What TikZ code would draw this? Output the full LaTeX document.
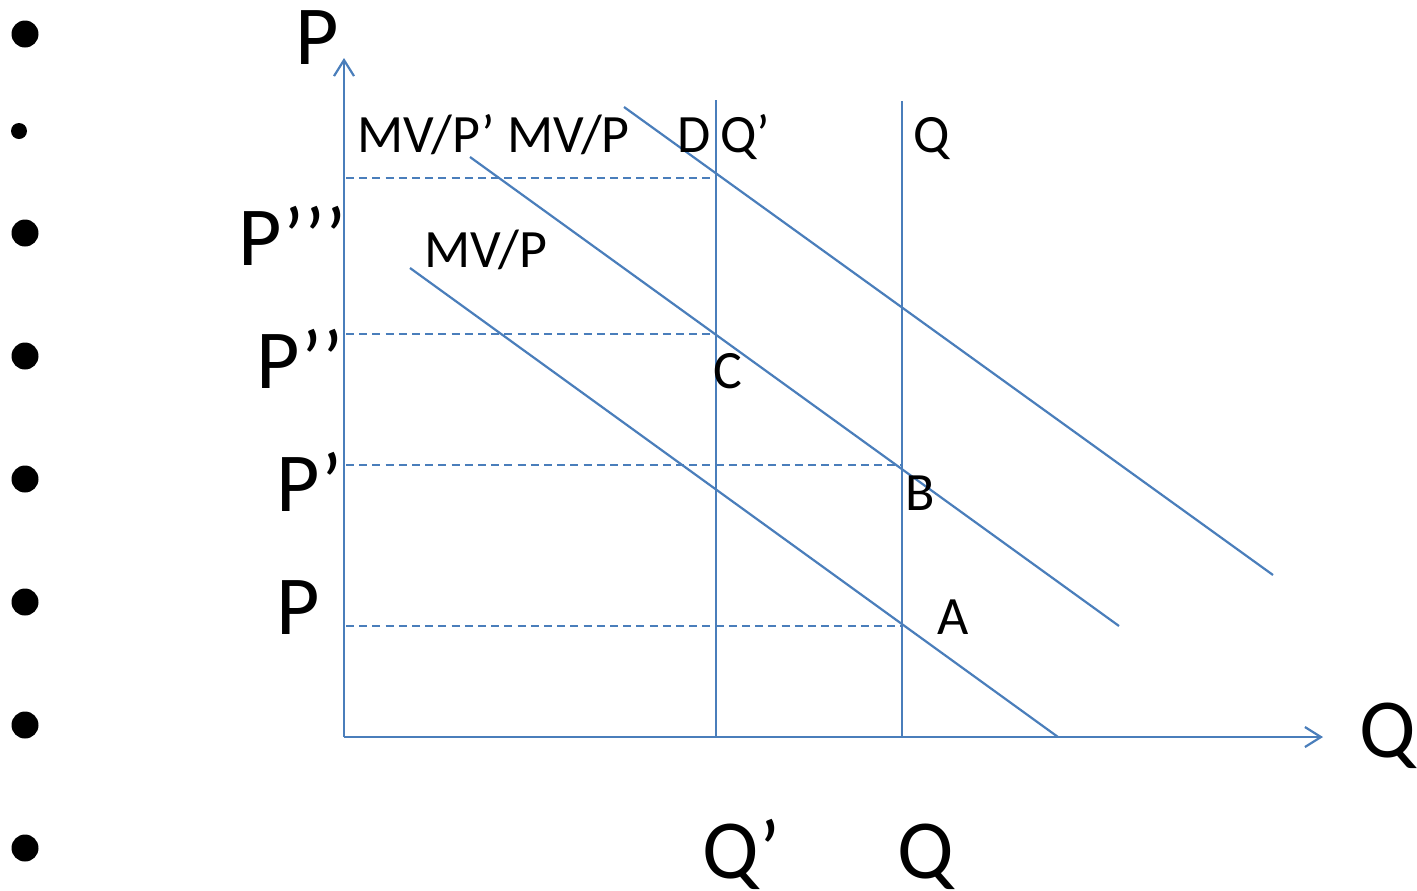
\documentclass[tikz,border=0pt]{standalone}
\usepackage{fontspec}
\setmainfont{Carlito}
\usetikzlibrary{arrows.meta}
\definecolor{ax}{HTML}{4A7EBB}
\tikzset{
  curve/.style={draw=ax, line width=1.1pt},
  axisline/.style={draw=ax, line width=1.2pt, -{Straight Barb[length=8pt,width=10pt,line width=1.1pt]}},
  guide/.style={draw=ax, line width=1pt, dash pattern=on 4pt off 2.6pt},
  big/.style={font=\fontsize{42}{42}\selectfont, anchor=base west, inner sep=0pt},
  small/.style={font=\fontsize{27}{27}\selectfont, anchor=base west, inner sep=0pt},
  bul/.style={fill=black, draw=none}
}
\begin{document}
\begin{tikzpicture}[x=0.5pt,y=-0.5pt]
\useasboundingbox (0,0) rectangle (1417,890);
% bullets
\foreach \yy in {34,233,356,479,602,725,848} \fill[bul] (25,\yy) circle (13.5);
\fill[bul] (19,131) circle (8);
% axes
\coordinate (O) at (344,737);
\coordinate (Ptop) at (344,58);
\coordinate (Qend) at (1323,737);
\draw[axisline] (O) -- (Ptop);
\draw[axisline] (O) -- (Qend);
% verticals
\coordinate (q1t) at (716,100); \coordinate (q1b) at (716,737);
\coordinate (q2t) at (902,101); \coordinate (q2b) at (902,737);
\draw[curve] (q1b) -- (q1t);
\draw[curve] (q2b) -- (q2t);
% dashed guides
\coordinate (g1a) at (346,178); \coordinate (g1b) at (716,178);
\coordinate (g2a) at (346,334); \coordinate (g2b) at (716,334);
\coordinate (g3a) at (346,465); \coordinate (g3b) at (902,465);
\coordinate (g4a) at (346,626); \coordinate (g4b) at (902,626);
\draw[guide] (g1a) -- (g1b);
\draw[guide] (g2a) -- (g2b);
\draw[guide] (g3a) -- (g3b);
\draw[guide] (g4a) -- (g4b);
% demand lines
\coordinate (l1a) at (410,268); \coordinate (l1b) at (1058,737);
\coordinate (l2a) at (470,157); \coordinate (l2b) at (1119,626);
\coordinate (l3a) at (624,107); \coordinate (l3b) at (1273,575);
\draw[curve] (l1a) -- (l1b);
\draw[curve] (l2a) -- (l2b);
\draw[curve] (l3a) -- (l3b);
% big labels
\node[big] (Plab) at (295,64) {P};
\node[big] (P3) at (238,265) {P’’’};
\node[big] (P2) at (256,388) {P’’};
\node[big] (P1) at (276,511) {P’};
\node[big] (P0) at (276,634) {P};
\node[big] (Qlab) at (1359,757) {Q};
\node[big] (Qp) at (702,878) {Q’};
\node[big] (Q0) at (897,878) {Q};
% small labels
\node[small] (mvtop) at (357,152) {MV/P’ MV/P};
\node[small] (D) at (677,152) {D};
\node[small] (Qpt) at (720,152) {Q’};
\node[small] (Qt) at (913,152) {Q};
\node[small] (mvlow) at (424,267) {MV/P};
\node[small] (C) at (713,388) {C};
\node[small] (B) at (905,510) {B};
\node[small] (A) at (937,634) {A};
\end{tikzpicture}
\end{document}
